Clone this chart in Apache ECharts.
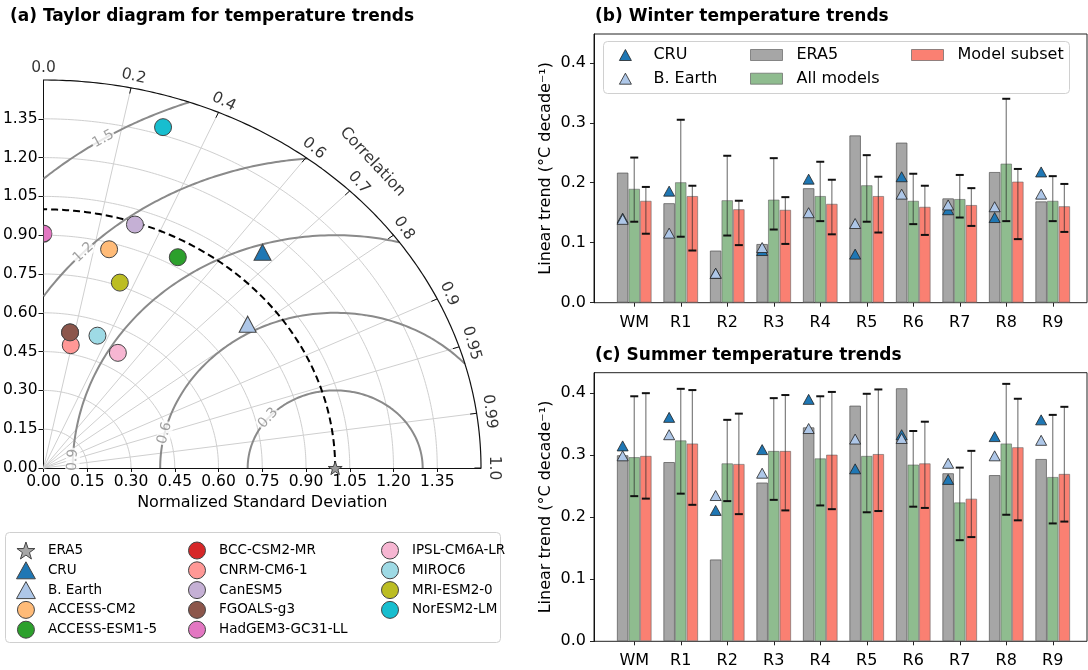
<!DOCTYPE html>
<html><head><meta charset="utf-8">
<script src="https://cdn.jsdelivr.net/npm/echarts@6/dist/echarts.min.js"></script>
<style>html,body{margin:0;padding:0;background:#fff}#c{width:1088px;height:670px}</style>
</head><body><div id="c"></div>
<script>
// ===================== DATA =====================
// (a) Taylor diagram: normalized standard deviation and correlation
const taylorModels = ['ACCESS-CM2','ACCESS-ESM1-5','BCC-CSM2-MR','CNRM-CM6-1','CanESM5','FGOALS-g3','HadGEM3-GC31-LL','IPSL-CM6A-LR','MIROC6','MRI-ESM2-0','NorESM2-LM'];
const taylorModelStd  = [0.875, 0.936, 0.532, 0.484, 0.992, 0.532, 0.906, 0.513, 0.544, 0.763, 1.380];
const taylorModelCorr = [0.257, 0.492, 0.171, 0.193, 0.316, 0.171, 0.000, 0.497, 0.340, 0.343, 0.297];
const taylorModelColors = ['#ffbb78','#2ca02c','#d62728','#ff9896','#c5b0d5','#8c564b','#e377c2','#f7b6d2','#9edae5','#bcbd22','#17becf'];
const taylorObsNames = ['CRU','B. Earth'];
const taylorObsStd  = [1.1225, 0.894];
const taylorObsCorr = [0.669, 0.783];
const taylorRefStd = 1.0, taylorRefCorr = 1.0;  // ERA5
const stdTickValues = [0,0.15,0.30,0.45,0.60,0.75,0.90,1.05,1.20,1.35];
const stdMax = 1.5;
const corrTickValues = [0.0,0.2,0.4,0.6,0.7,0.8,0.9,0.95,0.99,1.0];
const corrGridValues = [0.2,0.4,0.6,0.7,0.8,0.9,0.95,0.99];
const rmsLevels = [0.3,0.6,0.9,1.2,1.5];
const rmsLabelAngleDeg = [140,167,178,136,122];   // where each contour label sits
const rmsLabelRotate = [47,75,86,43,29];

// (b)/(c) regional trends
const regions = ['WM','R1','R2','R3','R4','R5','R6','R7','R8','R9'];
const winterERA5  = [0.217,0.166,0.087,0.098,0.191,0.279,0.267,0.174,0.218,0.169];
const winterAll   = [0.190,0.201,0.171,0.172,0.178,0.196,0.170,0.173,0.232,0.170];
const winterAllLo = [0.135,0.110,0.112,0.122,0.136,0.135,0.131,0.142,0.136,0.136];
const winterAllHi = [0.242,0.305,0.245,0.241,0.235,0.246,0.215,0.213,0.340,0.211];
const winterSub   = [0.170,0.178,0.156,0.155,0.165,0.178,0.160,0.163,0.202,0.161];
const winterSubLo = [0.115,0.087,0.096,0.098,0.114,0.117,0.113,0.128,0.106,0.118];
const winterSubHi = [0.193,0.195,0.170,0.176,0.205,0.210,0.195,0.191,0.223,0.198];
const winterCRU   = [0.141,0.186,0.049,0.087,0.206,0.081,0.210,0.155,0.142,0.218];
const winterBE    = [0.139,0.116,0.049,0.092,0.150,0.132,0.181,0.163,0.160,0.181];

const summerERA5  = [0.300,0.289,0.132,0.256,0.345,0.380,0.408,0.271,0.268,0.294];
const summerAll   = [0.297,0.324,0.287,0.307,0.295,0.299,0.285,0.224,0.319,0.265];
const summerAllLo = [0.234,0.238,0.226,0.228,0.219,0.208,0.217,0.163,0.204,0.190];
const summerAllHi = [0.395,0.407,0.357,0.392,0.395,0.399,0.339,0.280,0.415,0.365];
const summerSub   = [0.299,0.319,0.286,0.307,0.301,0.302,0.287,0.230,0.313,0.270];
const summerSubLo = [0.230,0.220,0.205,0.211,0.213,0.210,0.215,0.168,0.195,0.193];
const summerSubHi = [0.400,0.405,0.367,0.397,0.402,0.406,0.354,0.307,0.391,0.378];
const summerCRU   = [0.315,0.361,0.211,0.309,0.390,0.278,0.333,0.261,0.330,0.357];
const summerBE    = [0.299,0.333,0.235,0.271,0.343,0.326,0.327,0.287,0.299,0.324];
const trendTicks = [0,0.1,0.2,0.3,0.4];

// ===================== LAYOUT / STYLE =====================
const FONT = 'DejaVu Sans';
const TG = {left:43, top:80, width:438, height:388};
const BW = 11.6;
const starPath = 'path://M50,0 L61.8,35.1 L98.1,35.1 L68.8,56.7 L79.4,91 L50,70 L20.6,91 L31.2,56.7 L1.9,35.1 L38.2,35.1 Z';
const triPath = 'path://M50,0 L100,90 L0,90 Z';
const halfCirclePath = 'path://M0,0 A10,10 0 0 1 0,20 Z';

function toXY(s, c){ return [s*c, s*Math.sqrt(Math.max(0,1-c*c))]; }
function pixAngle(x, y){ return Math.atan2(y/stdMax*TG.height, x/stdMax*TG.width)*180/Math.PI; }

const series = [];

// ---------- bar panels ----------
function errSeries(name, lo, hi, offset, idx){
  return {type:'custom', name:name, xAxisIndex:idx, yAxisIndex:idx, silent:true, z:5,
    data: regions.map((r,i)=>[i, lo[i], hi[i]]),
    renderItem: function(params, api){
      const top = api.coord([api.value(0), api.value(2)]);
      const bot = api.coord([api.value(0), api.value(1)]);
      const x = top[0] + offset, cw = 4;
      return {type:'group', children:[
        {type:'line', shape:{x1:x,y1:top[1],x2:x,y2:bot[1]}, style:{stroke:'rgba(40,40,40,0.6)', lineWidth:1.2}},
        {type:'line', shape:{x1:x-cw,y1:top[1],x2:x+cw,y2:top[1]}, style:{stroke:'#111', lineWidth:2}},
        {type:'line', shape:{x1:x-cw,y1:bot[1],x2:x+cw,y2:bot[1]}, style:{stroke:'#111', lineWidth:2}}
      ]};
    }};
}
function barPanel(idx, era5, all, allLo, allHi, sub, subLo, subHi, cru, be){
  const edge = 'rgba(100,100,100,0.6)';
  series.push({type:'bar', name:'ERA5', xAxisIndex:idx, yAxisIndex:idx, data:era5, barWidth:BW, barGap:'0%',
    itemStyle:{color:'#a6a6a6', borderColor:'rgba(90,90,90,0.75)', borderWidth:1}, z:2, silent:true});
  series.push({type:'bar', name:'All models', xAxisIndex:idx, yAxisIndex:idx, data:all, barWidth:BW, barGap:'0%',
    itemStyle:{color:'#8fbc8f', borderColor:edge, borderWidth:1}, z:2, silent:true});
  series.push({type:'bar', name:'Model subset', xAxisIndex:idx, yAxisIndex:idx, data:sub, barWidth:BW, barGap:'0%',
    itemStyle:{color:'#fa8072', borderColor:edge, borderWidth:1}, z:2, silent:true});
  series.push(errSeries('All models', allLo, allHi, 0, idx));
  series.push(errSeries('Model subset', subLo, subHi, BW, idx));
  series.push({type:'scatter', name:'CRU', xAxisIndex:idx, yAxisIndex:idx, data:cru, symbol:'triangle', symbolSize:[11,10],
    symbolOffset:[-BW,0], itemStyle:{color:'#1f77b4', borderColor:'#222', borderWidth:0.8, opacity:1}, z:6, silent:true});
  series.push({type:'scatter', name:'B. Earth', xAxisIndex:idx, yAxisIndex:idx, data:be, symbol:'triangle', symbolSize:[11,10],
    symbolOffset:[-BW,0], itemStyle:{color:'#aec7e8', borderColor:'#222', borderWidth:0.8, opacity:1}, z:6, silent:true});
}
barPanel(2, winterERA5, winterAll, winterAllLo, winterAllHi, winterSub, winterSubLo, winterSubHi, winterCRU, winterBE);
barPanel(4, summerERA5, summerAll, summerAllLo, summerAllHi, summerSub, summerSubLo, summerSubHi, summerCRU, summerBE);

// ---------- Taylor diagram ----------
function lineS(data, style, z){
  return {type:'line', xAxisIndex:0, yAxisIndex:0, data:data, symbol:'none', showSymbol:false, silent:true,
    lineStyle:style, z:z||1, clip:false, animation:false};
}
function arc(r){ const p=[]; for(let k=0;k<=180;k++){const t=k/180*Math.PI/2; p.push([r*Math.cos(t), r*Math.sin(t)]);} return p; }
// std grid arcs
stdTickValues.filter(v=>v>0).forEach(r=>series.push(lineS(arc(r), {color:'#cfcfcf', width:1}, 1)));
// correlation radial lines
corrGridValues.forEach(c=>series.push(lineS([[0,0], toXY(stdMax,c)], {color:'#cfcfcf', width:1}, 1)));
// outer arc
series.push(lineS(arc(stdMax), {color:'#111', width:1.2}, 3));
// correlation tick marks
corrTickValues.forEach(c=>series.push(lineS([toXY(stdMax*0.985,c), toXY(stdMax,c)], {color:'#111', width:1}, 3)));
// RMSD contours around reference
rmsLevels.forEach(R=>{
  const cMin = (stdMax*stdMax - taylorRefStd*taylorRefStd - R*R)/(2*R*taylorRefStd);
  const phiMin = cMin >= 1 ? 0 : Math.acos(cMin);
  const phiMax = R > taylorRefStd ? Math.acos(-taylorRefStd/R) : Math.PI;
  const p=[]; const n=240;
  for(let k=0;k<=n;k++){const f=phiMin+(phiMax-phiMin)*k/n; p.push([taylorRefStd+R*Math.cos(f), R*Math.sin(f)]);}
  series.push(lineS(p, {color:'#8a8a8a', width:2}, 2));
});
// contour labels
series.push({type:'scatter', xAxisIndex:0, yAxisIndex:0, silent:true, symbolSize:0, z:4, clip:false,
  data: rmsLevels.map((R,i)=>{const f=rmsLabelAngleDeg[i]*Math.PI/180;
    return {value:[taylorRefStd+R*Math.cos(f), R*Math.sin(f)], label:{rotate:rmsLabelRotate[i], formatter:String(R)}};}),
  label:{show:true, position:'inside', fontSize:14, color:'#8a8a8a', fontFamily:FONT, backgroundColor:'#fff', padding:[0,1]}});
// reference dashed arc
series.push(lineS(arc(taylorRefStd), {color:'#000', width:2, type:[7,4]}, 3));
// correlation labels
series.push({type:'scatter', xAxisIndex:0, yAxisIndex:0, silent:true, symbolSize:0, z:4, clip:false,
  data: corrTickValues.map(c=>{const p=toXY(stdMax+0.045,c); const a=pixAngle(p[0],p[1]);
    return {value:p, label:{rotate:a-90, formatter:c.toFixed(c===0.95||c===0.99?2:1)}};}),
  label:{show:true, position:'inside', fontSize:15.5, color:'#000', fontFamily:FONT}});
(function(){ const p=toXY(1.635,0.69); const a=pixAngle(p[0],p[1]);
  series.push({type:'scatter', xAxisIndex:0, yAxisIndex:0, silent:true, symbolSize:0, z:4, clip:false,
    data:[{value:p, label:{rotate:a-90, formatter:'Correlation'}}],
    label:{show:true, position:'inside', fontSize:16, color:'#000', fontFamily:FONT}});
})();
// reference point
series.push({type:'scatter', name:'ERA5', xAxisIndex:0, yAxisIndex:0, clip:false, z:8, silent:true,
  data:[toXY(taylorRefStd, taylorRefCorr)], symbol:starPath, symbolSize:14, symbolKeepAspect:true,
  itemStyle:{color:'#9a9a9a', borderColor:'#444', borderWidth:1, opacity:1}});
// observations
const obsColors = ['#1f77b4','#aec7e8'];
taylorObsNames.forEach((n,i)=>series.push({type:'scatter', name:n, xAxisIndex:0, yAxisIndex:0, clip:false, z:8, silent:true,
  data:[toXY(taylorObsStd[i], taylorObsCorr[i])], symbol:'triangle', symbolSize:[17,16],
  itemStyle:{color:obsColors[i], borderColor:'#444', borderWidth:1, opacity:1}}));
// models
taylorModels.forEach((n,i)=>{
  const edgeOnAxis = taylorModelCorr[i] === 0;
  series.push({type:'scatter', name:n, xAxisIndex:0, yAxisIndex:0, clip:false, z:8, silent:true,
    data:[toXY(taylorModelStd[i], taylorModelCorr[i])],
    symbol: edgeOnAxis ? halfCirclePath : 'circle', symbolSize: edgeOnAxis ? [8.5,17] : 17,
    symbolOffset: edgeOnAxis ? [4.25,0] : [0,0],
    itemStyle:{color:taylorModelColors[i], borderColor:'#444', borderWidth:1, opacity:1}});
});

// ===================== AXES =====================
const axisBase = {axisLine:{show:true, lineStyle:{color:'#111', width:1}}, splitLine:{show:false}};
const catAxis = g=>({gridIndex:g, type:'category', data:regions, axisLine:{show:false},
    axisTick:{show:true, alignWithLabel:true, length:4, lineStyle:{color:'#222'}},
    axisLabel:{fontSize:16, color:'#000', margin:12, fontFamily:FONT}, splitLine:{show:false}});
const xAxes = [
  Object.assign({gridIndex:0, type:'value', min:0, max:stdMax,
    axisTick:{show:true, length:4, customValues:stdTickValues, lineStyle:{color:'#111'}},
    axisLabel:{customValues:stdTickValues, formatter:v=>v.toFixed(2), fontSize:15.5, color:'#000', margin:6, fontFamily:FONT},
    name:'Normalized Standard Deviation', nameLocation:'middle', nameGap:27,
    nameTextStyle:{fontSize:16, color:'#000', fontFamily:FONT}}, axisBase),
  {gridIndex:1, type:'value', min:0, max:1, show:false},
  catAxis(2),
  {gridIndex:3, type:'value', min:0, max:1, show:false},
  catAxis(4)
];
function trendAxis(g, max){
  return Object.assign({gridIndex:g, type:'value', min:0, max:max,
    axisTick:{show:true, length:4, customValues:trendTicks, lineStyle:{color:'#222'}},
    axisLabel:{customValues:trendTicks, formatter:v=>v.toFixed(1), fontSize:16, color:'#000', margin:8, fontFamily:FONT},
    name:'Linear trend (°C decade⁻¹)', nameLocation:'middle', nameGap:40,
    nameTextStyle:{fontSize:16, color:'#000', fontFamily:FONT}}, axisBase);
}
const yAxes = [
  Object.assign({gridIndex:0, type:'value', min:0, max:stdMax,
    axisTick:{show:true, length:5, customValues:stdTickValues, lineStyle:{color:'#111'}},
    axisLabel:{customValues:stdTickValues, formatter:v=>v.toFixed(2), fontSize:15.5, color:'#000', margin:6, fontFamily:FONT}}, axisBase),
  trendAxis(1, 0.448),
  {gridIndex:2, type:'value', min:0, max:0.448, show:false},
  trendAxis(3, 0.433),
  {gridIndex:4, type:'value', min:0, max:0.433, show:false}
];

// ===================== LEGENDS =====================
function legendCol(names, left, top, opts){
  return Object.assign({orient:'vertical', left:left, top:top, padding:0, itemGap:1.8, itemWidth:34, itemHeight:17,
    symbolKeepAspect:true, selectedMode:false, data:names,
    itemStyle:{borderWidth:1, borderColor:'#444'},
    textStyle:{fontSize:13.5, color:'#000', fontFamily:FONT}}, opts||{});
}
const circ = n=>({name:n, icon:'circle'});
const legends = [
  legendCol([{name:'ERA5', icon:starPath},{name:'CRU', icon:triPath},{name:'B. Earth', icon:triPath}, circ('ACCESS-CM2'), circ('ACCESS-ESM1-5')], 16, 541.5),
  legendCol(['BCC-CSM2-MR','CNRM-CM6-1','CanESM5','FGOALS-g3','HadGEM3-GC31-LL'].map(circ), 188, 541.5),
  legendCol(['IPSL-CM6A-LR','MIROC6','MRI-ESM2-0','NorESM2-LM'].map(circ), 381, 541.5),
  legendCol([{name:'CRU', icon:'triangle'},{name:'B. Earth', icon:'triangle'}], 619, 47,
    {itemWidth:12, itemHeight:11, itemGap:7.7, itemStyle:{borderWidth:0.8, borderColor:'#222'},
     textStyle:{fontSize:16, color:'#000', fontFamily:FONT, padding:[0,0,0,17]}}),
  legendCol([{name:'ERA5', icon:'rect'},{name:'All models', icon:'rect'}], 750, 47,
    {itemWidth:32, itemHeight:11, itemGap:7.7, symbolKeepAspect:false, itemStyle:{borderWidth:1, borderColor:'rgba(100,100,100,0.7)'},
     textStyle:{fontSize:16, color:'#000', fontFamily:FONT, padding:[0,0,0,9]}}),
  legendCol([{name:'Model subset', icon:'rect'}], 911, 47,
    {itemWidth:32, itemHeight:11, itemGap:7.7, symbolKeepAspect:false, itemStyle:{borderWidth:1, borderColor:'rgba(100,100,100,0.7)'},
     textStyle:{fontSize:16, color:'#000', fontFamily:FONT, padding:[0,0,0,9]}})
];

// ===================== OPTION =====================
const titleStyle = {fontSize:17, fontWeight:'bold', color:'#000', fontFamily:FONT};
const option = {
  animation:false,
  backgroundColor:'#fff',
  textStyle:{fontFamily:FONT},
  title:[
    {text:'(a) Taylor diagram for temperature trends', left:10, top:8, padding:0, textStyle:titleStyle},
    {text:'(b) Winter temperature trends', left:595, top:8, padding:0, textStyle:titleStyle},
    {text:'(c) Summer temperature trends', left:595, top:347, padding:0, textStyle:titleStyle}
  ],
  grid:[
    {left:TG.left, top:TG.top, width:TG.width, height:TG.height},
    {left:594, top:34, width:493, height:268.7, show:true, borderColor:'#222', borderWidth:1, backgroundColor:'transparent'},
    {left:611, top:34, width:465, height:268.7},
    {left:594, top:372.7, width:493, height:268.6, show:true, borderColor:'#222', borderWidth:1, backgroundColor:'transparent'},
    {left:611, top:372.7, width:465, height:268.6}
  ],
  xAxis:xAxes, yAxis:yAxes,
  legend:legends,
  graphic:[
    {type:'rect', left:5, top:532, shape:{width:495, height:110, r:4}, style:{fill:'#fff', stroke:'#d0d0d0', lineWidth:1}, z:0, silent:true},
    {type:'rect', left:603, top:41, shape:{width:466, height:52, r:4}, style:{fill:'rgba(255,255,255,0.85)', stroke:'#d0d0d0', lineWidth:1}, z:0, silent:true}
  ],
  series:series
};
const chart = echarts.init(document.getElementById('c'), null, {renderer:'canvas'});
chart.setOption(option);
</script>
</body></html>
